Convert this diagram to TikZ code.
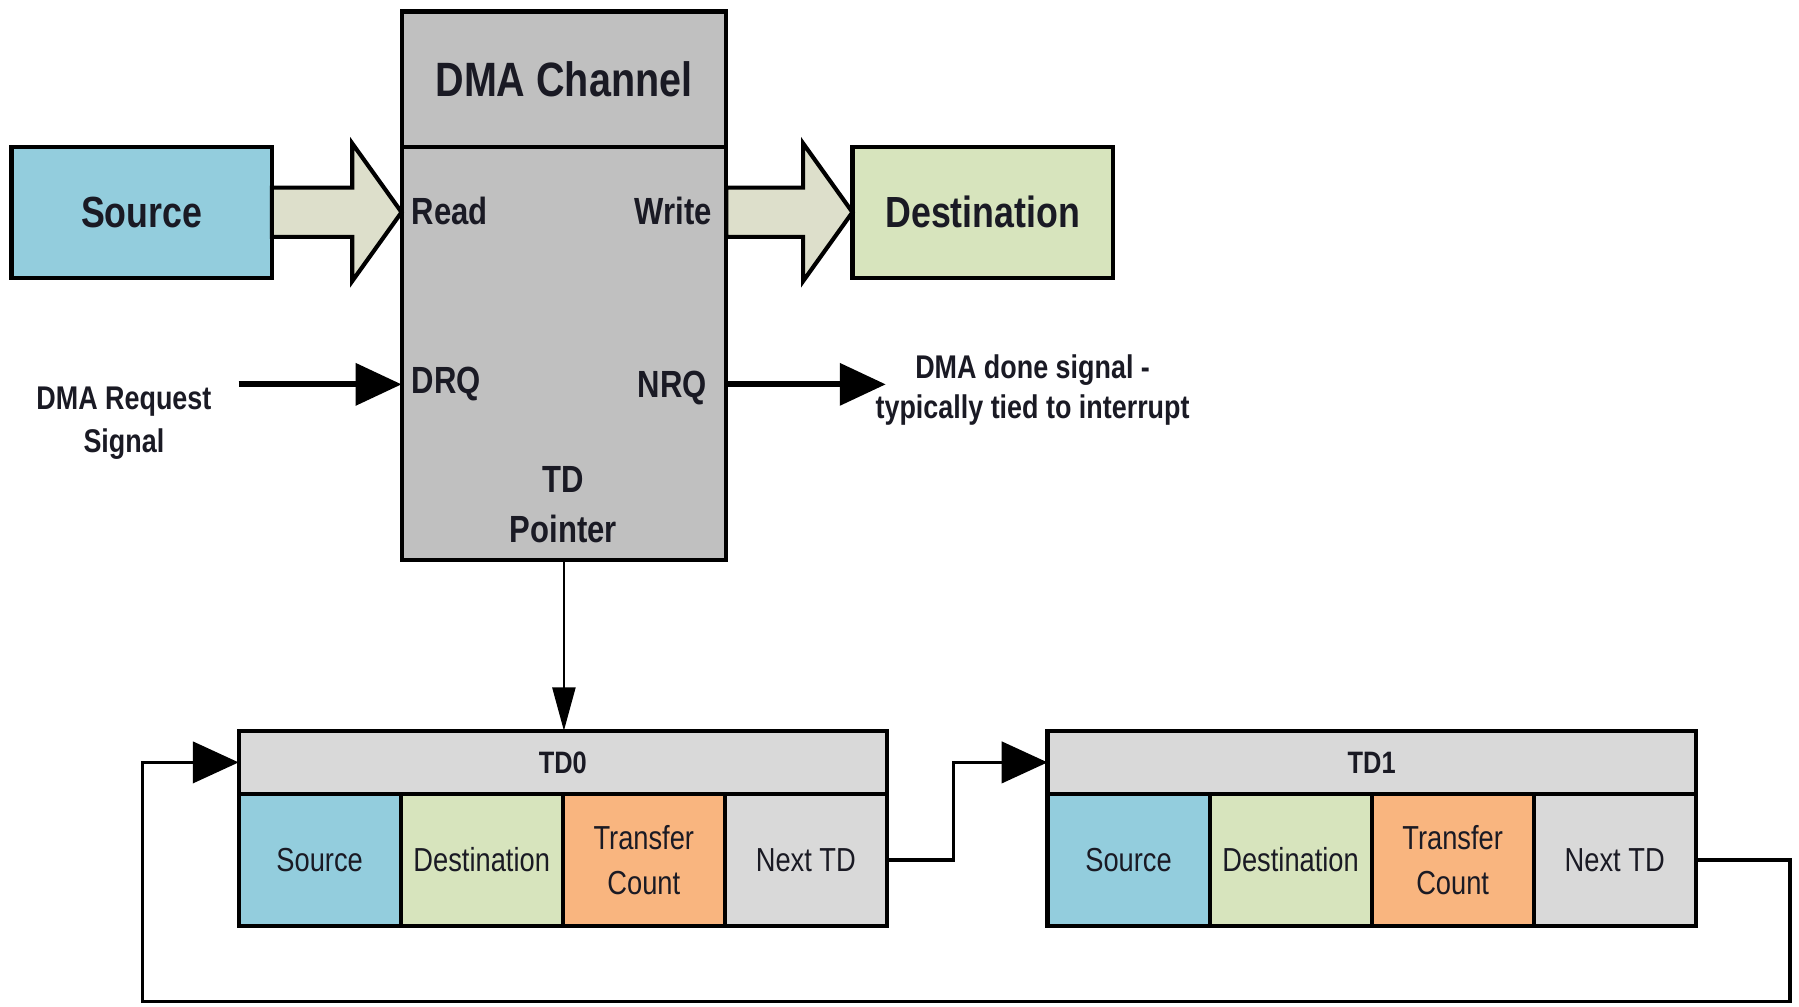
\documentclass[tikz,border=0pt]{standalone}
\usepackage{fontspec}
\setmainfont{Liberation Sans}[FakeStretch=0.82]
\usetikzlibrary{arrows.meta,calc}
\definecolor{srcblue}{HTML}{93CDDD}
\definecolor{dstgreen}{HTML}{D7E4BD}
\definecolor{cntorange}{HTML}{F9B57F}
\definecolor{paleg}{HTML}{D9D9D9}
\definecolor{chgray}{HTML}{C0C0C0}
\definecolor{busfill}{HTML}{DDDFCB}
\definecolor{ink}{HTML}{1A1A24}
\begin{document}
\begin{tikzpicture}[x=0.5pt,y=-0.5pt,
  blk/.style={draw=black,line width=1.8pt,inner sep=0pt,outer sep=0pt,align=center,text=ink},
  bigbox/.style={blk,minimum width=113.5pt,minimum height=57pt,
    font=\bfseries\fontsize{19}{22}\selectfont},
  cell/.style={blk,minimum width=70.625pt,minimum height=57.5pt,
    font=\fontsize{14.5}{19.5}\selectfont},
  tdhead/.style={blk,fill=paleg,minimum width=282.5pt,minimum height=27.5pt,
    font=\bfseries\fontsize{13.5}{16}\selectfont},
  port/.style={text=ink,inner sep=0pt,font=\bfseries\fontsize{16.5}{22}\selectfont,align=center},
  note/.style={text=ink,inner sep=0pt,align=center},
  bus/.style={draw=black,line width=1.8pt,fill=busfill,line join=miter},
  sig/.style={draw=black,line width=2.5pt,-{Triangle[length=20pt,width=18pt]}},
  link/.style={draw=black,line width=1.5pt,-{Triangle[length=20pt,width=18pt]}},
  ptr/.style={draw=black,line width=1.2pt,-{Triangle[length=19pt,width=10pt]}}]
\useasboundingbox (0,0) rectangle (1568,877);

% DMA channel block
\node[blk,fill=chgray,minimum width=141.5pt,minimum height=59pt,
  font=\bfseries\fontsize{21}{24}\selectfont] (chanH) at (491.5,69) {DMA Channel};
\node[blk,fill=chgray,minimum width=141.5pt,minimum height=180pt] (chanB) at (491.5,308) {};
\node[port] (read)  at (392,184) {Read};
\node[port] (write) at (587,184) {Write};
\node[port] (drq)   at (389,335) {DRQ};
\node[port] (nrq)   at (586,338) {NRQ};
\node[port] (tdp)   at (491,440) {TD\\Pointer};

% source and destination
\node[bigbox,fill=srcblue]  (src) at (123.5,185) {Source};
\node[bigbox,fill=dstgreen] (dst) at (856.5,185) {Destination};

% data paths
\draw[bus] let \p1=(src.east), \p2=(chanB.west |- src.east) in
  (\x1,\y1+10.75pt) -- (\x2-21.5pt,\y1+10.75pt) -- (\x2-21.5pt,\y1+30pt)
  -- (\x2,\y1) -- (\x2-21.5pt,\y1-30pt) -- (\x2-21.5pt,\y1-10.75pt)
  -- (\x1,\y1-10.75pt) -- cycle;
\draw[bus] let \p1=(chanB.east |- dst.west), \p2=(dst.west) in
  (\x1,\y1+10.75pt) -- (\x2-21.5pt,\y1+10.75pt) -- (\x2-21.5pt,\y1+30pt)
  -- (\x2,\y1) -- (\x2-21.5pt,\y1-30pt) -- (\x2-21.5pt,\y1-10.75pt)
  -- (\x1,\y1-10.75pt) -- cycle;

% request and done signals
\node[note,font=\bfseries\fontsize{14.3}{19}\selectfont] (req) at (108,369) {DMA Request\\Signal};
\node[note,font=\bfseries\fontsize{14.3}{17.5}\selectfont] (done) at (900,340) {DMA done signal -\\typically tied to interrupt};
\coordinate (drqin) at (208,335);
\coordinate (nrqend) at (772,335);
\draw[sig] (drqin) -- (drqin -| chanB.west);
\draw[sig] (nrqend -| chanB.east) -- (nrqend);

% transfer descriptors
\node[tdhead] (td0h) at (490.5,664.5) {TD0};
\node[cell,fill=srcblue,anchor=north west] (s0) at (td0h.south west) {Source};
\node[cell,fill=dstgreen,anchor=west] (d0) at (s0.east) {Destination};
\node[cell,fill=cntorange,anchor=west] (c0) at (d0.east) {Transfer\\Count};
\node[cell,fill=paleg,anchor=west] (n0) at (c0.east) {Next TD};

\node[tdhead] (td1h) at (1195.5,664.5) {TD1};
\node[cell,fill=srcblue,anchor=north west] (s1) at (td1h.south west) {Source};
\node[cell,fill=dstgreen,anchor=west] (d1) at (s1.east) {Destination};
\node[cell,fill=cntorange,anchor=west] (c1) at (d1.east) {Transfer\\Count};
\node[cell,fill=paleg,anchor=west] (n1) at (c1.east) {Next TD};

% descriptor chaining
\draw[ptr] (chanB.south) -- (chanB.south |- td0h.north);
\draw[link] (n0.east) -- ++(58,0) |- (td1h.west);
\coordinate (loopR) at (1560,873);
\coordinate (loopL) at (124,873);
\draw[link] (n1.east) -| (loopR) -- (loopL) |- (td0h.west);
\end{tikzpicture}
\end{document}
